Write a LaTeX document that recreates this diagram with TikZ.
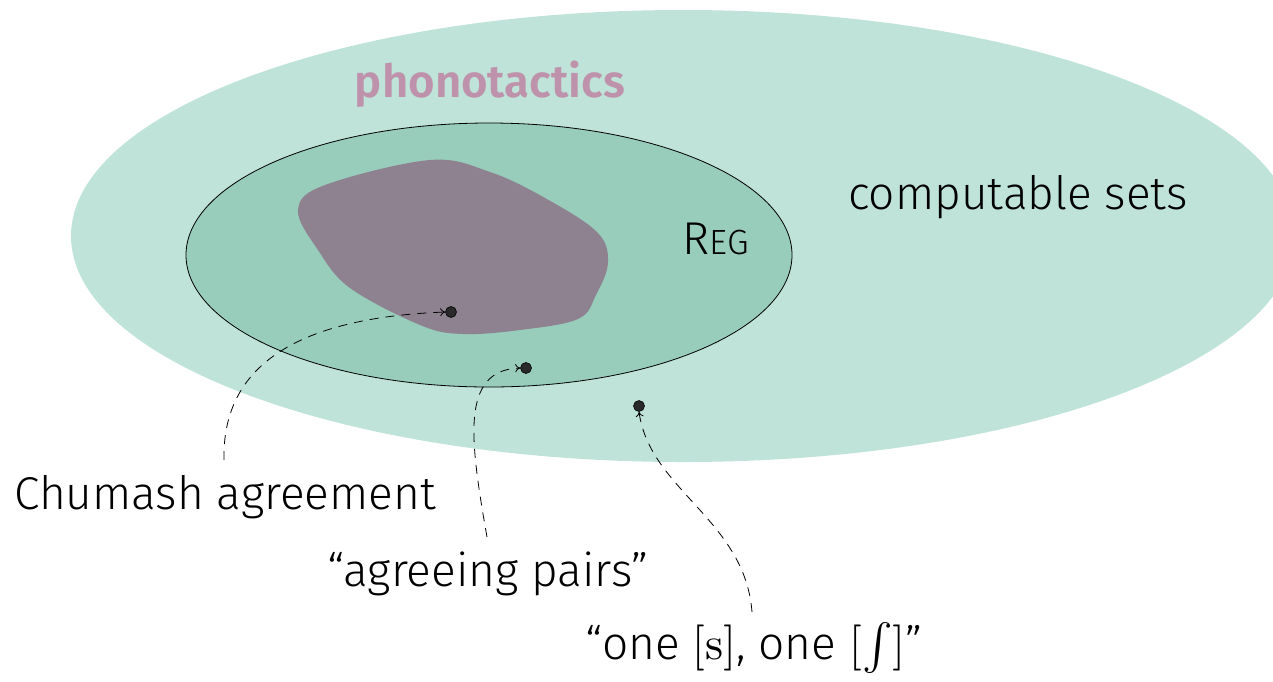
\documentclass[tikz,border=0pt]{standalone}
\usepackage{fontspec}
\setmainfont{Fira Sans}[UprightFont=* Light, BoldFont=* SemiBold]
\newfontfamily\lmmath{Latin Modern Math}
\usetikzlibrary{arrows.meta}
\definecolor{outerC}{HTML}{BFE3D8}
\definecolor{innerC}{HTML}{98CDBB}
\definecolor{blobC}{HTML}{8F8290}
\definecolor{phonC}{HTML}{BE92AA}
\definecolor{dotC}{HTML}{2A2A2A}
\tikzset{
  dotnode/.style={circle,fill=dotC,draw=black,line width=0.6pt,inner sep=0pt,minimum size=11pt},
  lbl/.style={inner sep=0pt,font=\fontsize{46}{50}\selectfont},
  conn/.style={dashed,dash pattern=on 9pt off 7pt,line width=0.8pt,-{To[length=5pt,width=8pt]}}
}
\begin{document}
\begin{tikzpicture}[x=1pt,y=-1pt]
\useasboundingbox (0,0) rectangle (1273,681);
\fill[outerC] (683,236) ellipse [x radius=612, y radius=226];
\draw[fill=innerC,line width=0.8pt] (489,255) ellipse [x radius=303, y radius=132];
\fill[blobC] plot[smooth cycle,tension=0.6] coordinates {(298,210) (325,185) (430,160) (490,172) (545,198) (597,232) (608,262) (596,295) (578,319) (520,330) (462,334) (420,325) (350,288) (318,250)};
\node[font=\bfseries\fontsize{45.5}{48}\selectfont,text=phonC,inner sep=0pt] (phon) at (490,84) {phonotactics};
\node[lbl] (comp) at (1018,197) {computable sets};
\node[inner sep=0pt,font=\fontsize{46}{50}\selectfont] (reg) at (716,239) {R{\fontsize{35}{38}\selectfont EG}};
\node[dotnode] (d1) at (451,312) {};
\node[dotnode] (d2) at (526,368) {};
\node[dotnode] (d3) at (639,406) {};
\node[lbl] (chum) at (225,497) {Chumash agreement};
\node[lbl] (agree) at (488,574) {“agreeing pairs”};
\node[lbl] (one) at (754,648) {“one {\lmmath[s]}, one {\lmmath[∫]}”};
\coordinate (c1) at (224,460);
\coordinate (c2) at (487,537);
\coordinate (c3) at (752,612);
\draw[conn] (c1) .. controls (222,370) and (290,318) .. (d1.west);
\draw[conn] (c2) .. controls (470,440) and (460,370) .. (d2.west);
\draw[conn] (c3) .. controls (745,520) and (650,490) .. (d3.south);
\end{tikzpicture}
\end{document}
